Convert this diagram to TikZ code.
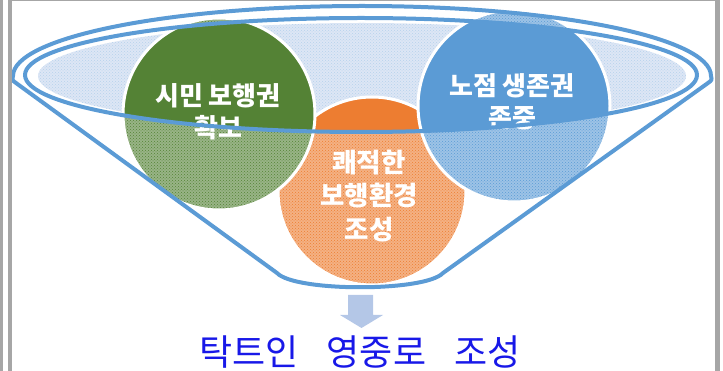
\documentclass[tikz,border=0pt]{standalone}
\usepackage{fontspec}
\newfontfamily\krfont{Noto Sans CJK KR}
\usepackage{xcolor}
\usetikzlibrary{patterns}
\definecolor{fGreen}{HTML}{548235}
\definecolor{fOrange}{HTML}{ED7D31}
\definecolor{fBlue}{HTML}{5B9BD5}
\definecolor{rimBlue}{HTML}{5B9BD5}
\definecolor{arrowBlue}{HTML}{B4C7E7}
\definecolor{glassBlue}{HTML}{D2DEF1}
\definecolor{titleBlue}{HTML}{1818E8}
\definecolor{frameGray}{HTML}{A6A6A6}
\begin{document}
\begin{tikzpicture}[x=1pt,y=-1pt,
  rim/.style={draw=rimBlue,line width=4pt,line join=round},
  disclabel/.style={text=white,align=center,font=\krfont\bfseries\fontsize{26}{32}\selectfont}]
\useasboundingbox (0,0) rectangle (723,371);
% patterned glass inside the opening
\fill[glassBlue!75!white] (362,76) ellipse[x radius=324pt,y radius=53pt];
\fill[pattern=crosshatch dots,pattern color=fBlue!45!white] (362,76) ellipse[x radius=324pt,y radius=53pt];
% the three discs: patterned, solid inside the opening
\foreach \cx/\cy/\r/\col in {372/191/94/fOrange,219/114/96/fGreen,514/106/96/fBlue}{
  \fill[\col!60!white] (\cx,\cy) circle[radius=\r pt];
  \fill[pattern=crosshatch dots,pattern color=\col] (\cx,\cy) circle[radius=\r pt];
  \begin{scope}
    \clip (361,75) ellipse[x radius=336pt,y radius=57pt];
    \fill[\col] (\cx,\cy) circle[radius=\r pt];
  \end{scope}
  \draw[white,line width=3pt] (\cx,\cy) circle[radius=\r pt];
}
\node[disclabel] (walk) at (218,112) {시민 보행권\\확보};
\node[disclabel] (vendor) at (512,102) {노점 생존권\\존중};
\node[disclabel,font=\krfont\bfseries\fontsize{26.5}{33.5}\selectfont] (pleasant) at (369,196) {쾌적한\\보행환경\\조성};
% funnel
\draw[rim] (361,75) ellipse[x radius=336pt,y radius=57pt];
\draw[rim] (277,273) -- (16,83) .. controls (12,80) .. (13,76)
  arc[start angle=180,end angle=0,x radius=349pt,y radius=70pt]
  .. controls (712,80) .. (708,83) -- (443,273)
  .. controls (425,292) and (295,292) .. (277,273);
% result
\fill[arrowBlue] (348,295) -- (373,295) -- (373,315) -- (383,315) -- (361.5,328)
  -- (340,315) -- (348,315) -- cycle;
\node[text=titleBlue,font=\krfont\fontsize{36}{40}\selectfont] (goal) at (360,352)
  {탁트인\hspace{28pt}영중로\hspace{28pt}조성};
% frame
\fill[frameGray] (0,0) rectangle (3,371);
\fill[frameGray] (8,0) rectangle (12,371);
\fill[frameGray] (8,0) rectangle (719,1.5);
\fill[frameGray] (715,0) rectangle (719.5,371);
\end{tikzpicture}
\end{document}
